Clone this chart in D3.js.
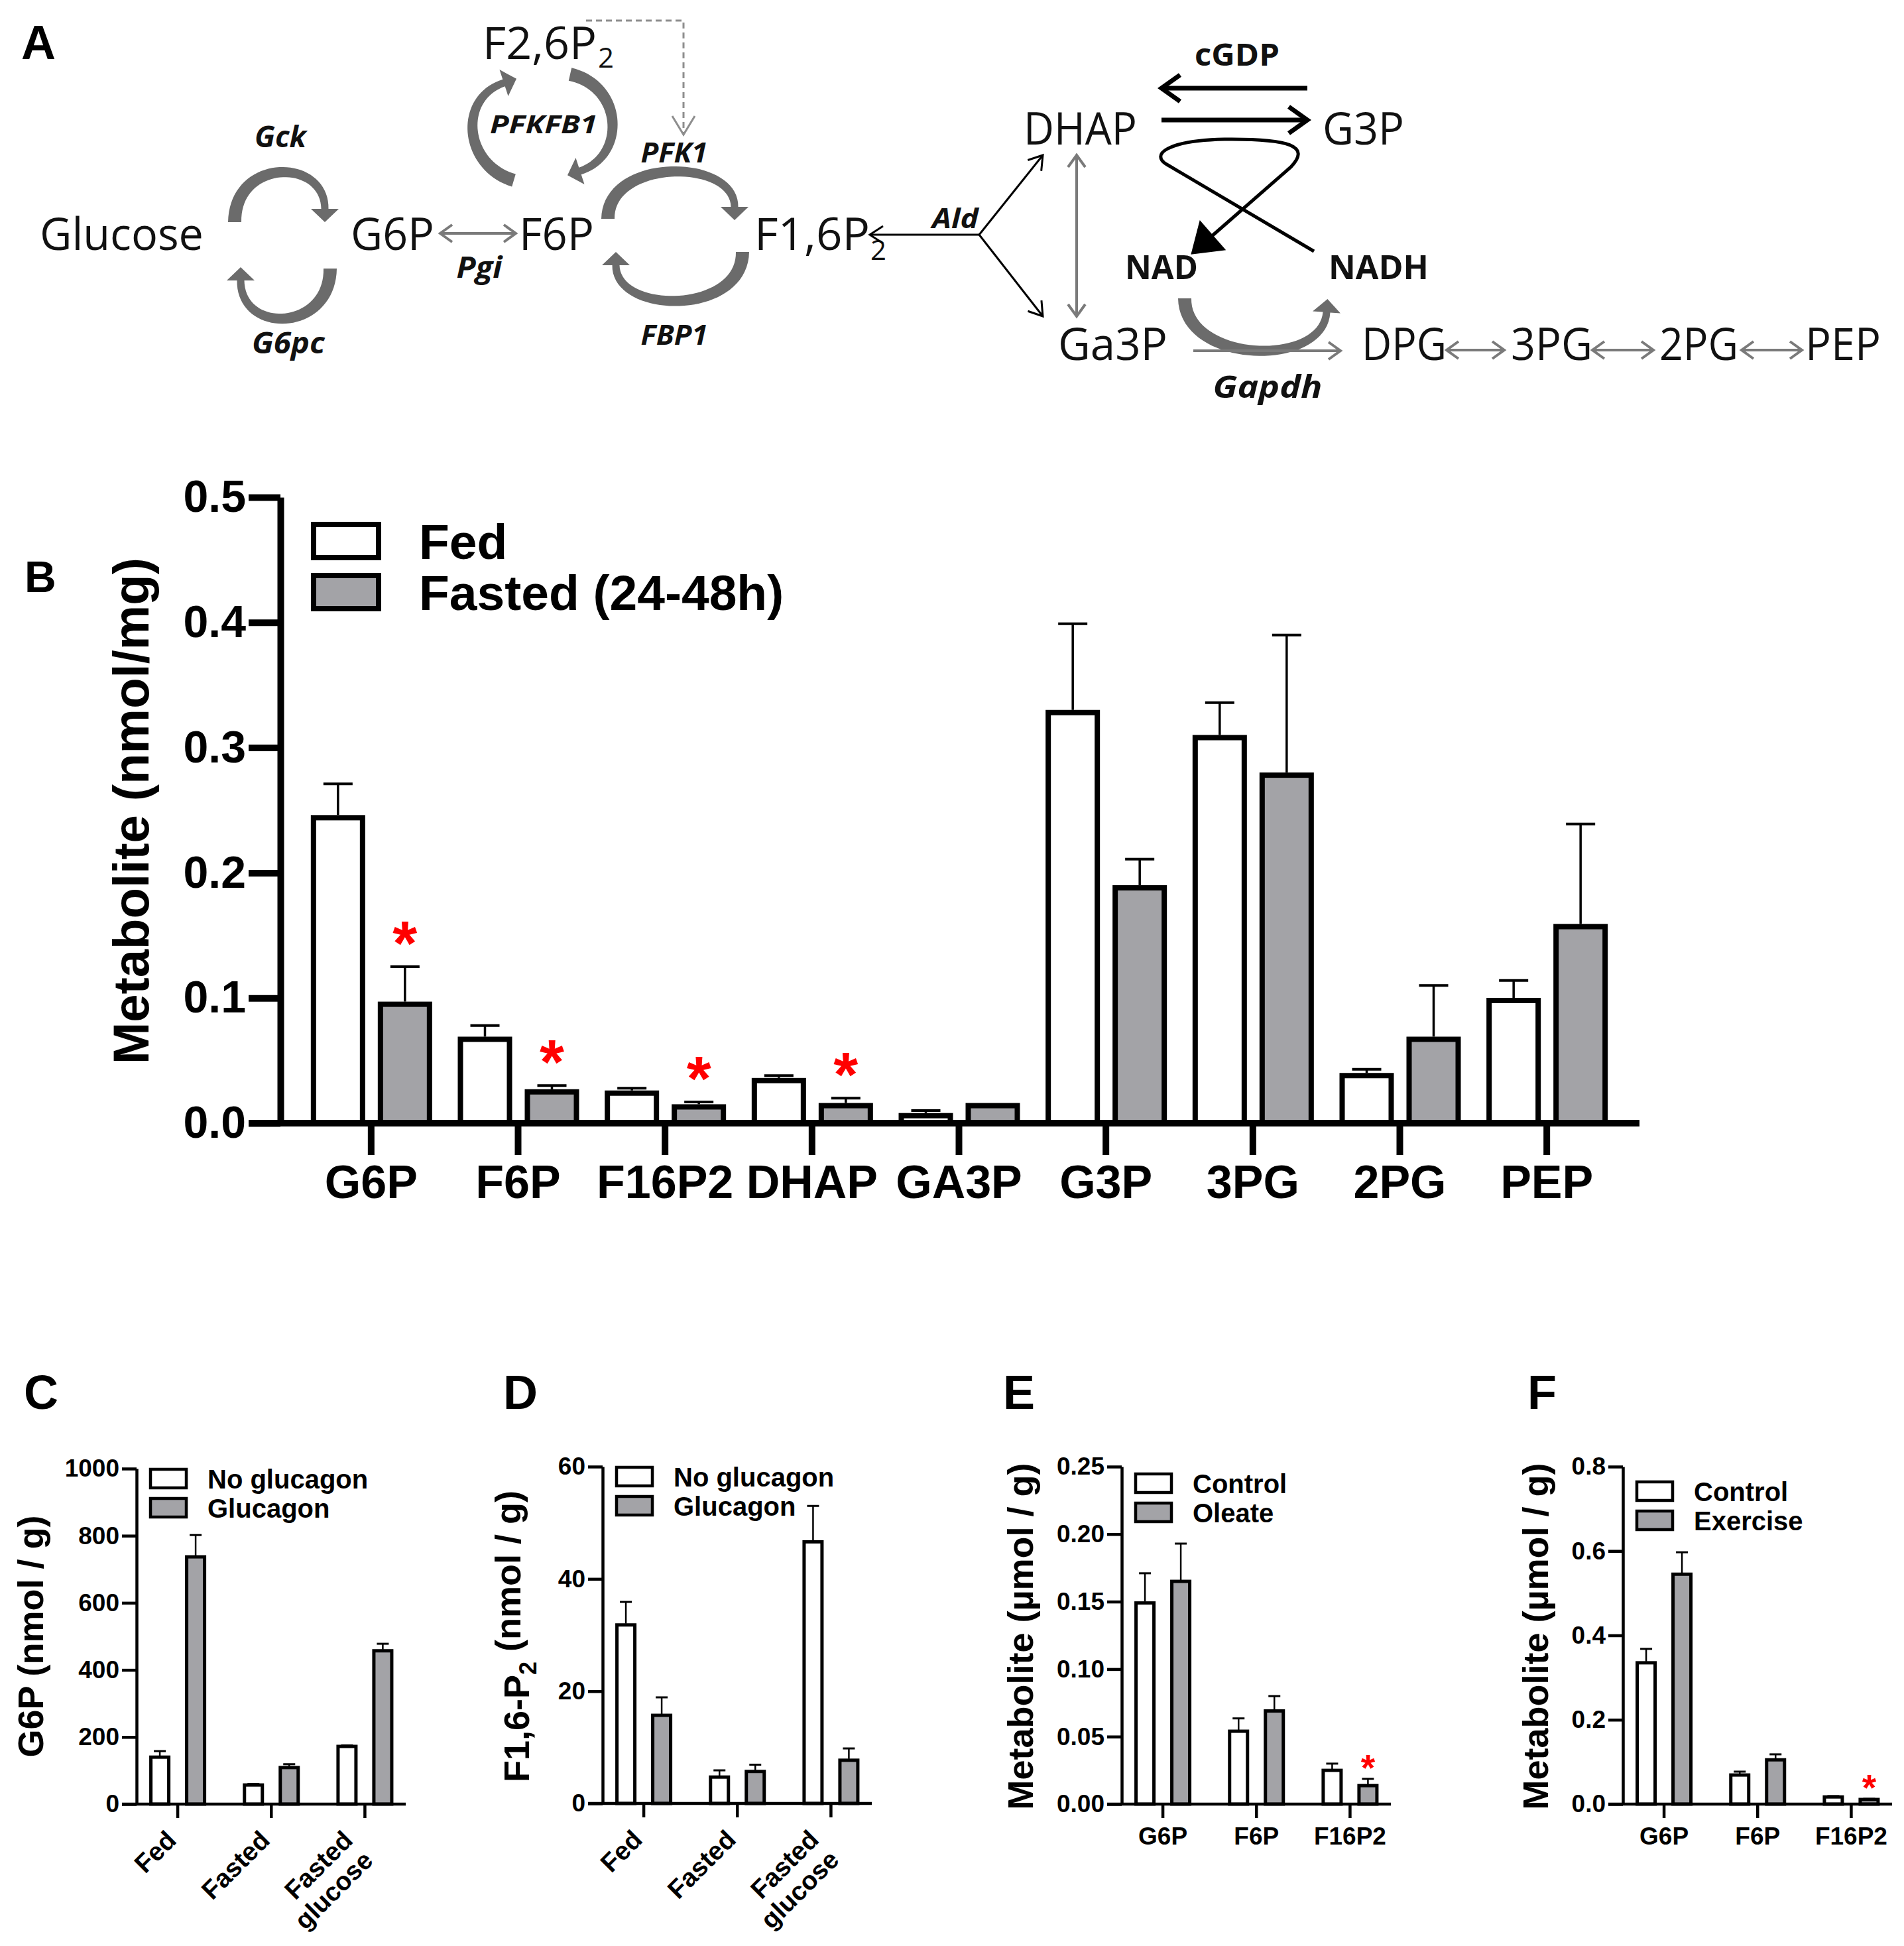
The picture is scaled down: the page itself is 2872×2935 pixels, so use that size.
<!DOCTYPE html>
<html>
<head>
<meta charset="utf-8">
<script src="https://cdn.jsdelivr.net/npm/d3@7"></script>
<style>
body { margin: 0; background: #fff; }
svg { display: block; }
</style>
</head>
<body>
<div id="fig"></div>
<script>
// ---------- data ----------
// panel B: liver metabolites, fed vs fasted
var bCategories = ['G6P', 'F6P', 'F16P2', 'DHAP', 'GA3P', 'G3P', '3PG', '2PG', 'PEP'];
var bSeries = ['Fed', 'Fasted (24-48h)'];
var bFed       = [0.244, 0.067, 0.024, 0.034, 0.006, 0.328, 0.308, 0.038, 0.098];
var bFedSem    = [0.027, 0.011, 0.004, 0.004, 0.004, 0.071, 0.028, 0.005, 0.016];
var bFasted    = [0.095, 0.025, 0.013, 0.014, 0.014, 0.188, 0.278, 0.067, 0.157];
var bFastedSem = [0.030, 0.005, 0.004, 0.006, 0.000, 0.023, 0.112, 0.043, 0.082];
var bSignificant = ['G6P', 'F6P', 'F16P2', 'DHAP'];
var bTicks = [0, 0.1, 0.2, 0.3, 0.4, 0.5];

// panels C and D: hepatocytes +/- glucagon
var cdGroups = ['Fed', 'Fasted', 'Fasted glucose'];
var cdSeries = ['No glucagon', 'Glucagon'];
var cNoGlucagon    = [140, 57, 172];
var cNoGlucagonSem = [18, 3, 3];
var cGlucagon      = [737, 109, 457];
var cGlucagonSem   = [65, 10, 21];
var cTicks = [0, 200, 400, 600, 800, 1000];

var dNoGlucagon    = [31.8, 4.7, 46.6];
var dNoGlucagonSem = [4.1, 1.2, 6.4];
var dGlucagon      = [15.7, 5.7, 7.7];
var dGlucagonSem   = [3.2, 1.2, 2.1];
var dTicks = [0, 20, 40, 60];

// panels E and F
var efCategories = ['G6P', 'F6P', 'F16P2'];
var eSeries = ['Control', 'Oleate'];
var eControl    = [0.149, 0.054, 0.025];
var eControlSem = [0.022, 0.0095, 0.005];
var eOleate     = [0.165, 0.069, 0.0137];
var eOleateSem  = [0.028, 0.011, 0.005];
var eTicks = [0, 0.05, 0.10, 0.15, 0.20, 0.25];

var fSeries = ['Control', 'Exercise'];
var fControl     = [0.335, 0.069, 0.017];
var fControlSem  = [0.033, 0.008, 0.002];
var fExercise    = [0.545, 0.105, 0.011];
var fExerciseSem = [0.052, 0.013, 0.0015];
var fTicks = [0, 0.2, 0.4, 0.6, 0.8];

// ---------- setup ----------
var W = 2872, H = 2935;
var chartFont = '"Liberation Sans", Arial, sans-serif';
var diagFont = '"Open Sans", "Noto Sans", sans-serif';
var grayFill = '#a3a3a7';

var svg = d3.select('#fig').append('svg')
  .attr('width', W).attr('height', H)
  .attr('viewBox', '0 0 ' + W + ' ' + H);
svg.append('rect').attr('width', W).attr('height', H).attr('fill', '#fff');

var defs = svg.append('defs');
function marker(id, d, fill, stroke, sw) {
  defs.append('marker').attr('id', id)
    .attr('markerUnits', 'userSpaceOnUse')
    .attr('viewBox', '-60 -40 100 80')
    .attr('markerWidth', 100).attr('markerHeight', 80)
    .attr('refX', 0).attr('refY', 0)
    .attr('orient', 'auto-start-reverse')
    .style('overflow', 'visible')
    .append('path').attr('d', d)
    .attr('fill', fill).attr('stroke', stroke).attr('stroke-width', sw)
    .attr('stroke-linejoin', 'miter');
}
marker('chevGray', 'M-18,-13 L0,0 L-18,13', 'none', '#7a7a7a', 4);
marker('chevBlack', 'M-20,-13 L0,0 L-20,13', 'none', '#000', 3);
marker('chevBold', 'M-28,-20 L0,0 L-28,20', 'none', '#000', 7);
marker('chevDash', 'M-28,-17 L0,0 L-28,17', 'none', '#8e8e8e', 3);
marker('triBlack', 'M-2,-30 L42,0 L-2,30 Z', '#000', 'none', 0);

// tapered curved arrow (cubic bezier), filled shape
function taperedArrow(g, p, w0, w1, headW, headL, color) {
  function pt(t) {
    var m = 1 - t;
    return [0, 1].map(function(k) {
      return m * m * m * p[0][k] + 3 * m * m * t * p[1][k] + 3 * m * t * t * p[2][k] + t * t * t * p[3][k];
    });
  }
  function tan(t) {
    var m = 1 - t;
    var v = [0, 1].map(function(k) {
      return 3 * m * m * (p[1][k] - p[0][k]) + 6 * m * t * (p[2][k] - p[1][k]) + 3 * t * t * (p[3][k] - p[2][k]);
    });
    var len = Math.sqrt(v[0] * v[0] + v[1] * v[1]);
    return [v[0] / len, v[1] / len];
  }
  var left = [], right = [];
  d3.range(0, 41).forEach(function(j) {
    var t = j / 40, q = pt(t), tv = tan(t), w = (w0 + (w1 - w0) * t) / 2;
    left.push([q[0] - tv[1] * w, q[1] + tv[0] * w]);
    right.push([q[0] + tv[1] * w, q[1] - tv[0] * w]);
  });
  var e = pt(1), te = tan(1), h = headW / 2;
  var poly = left.concat([
    [e[0] - te[1] * h, e[1] + te[0] * h],
    [e[0] + te[0] * headL, e[1] + te[1] * headL],
    [e[0] + te[1] * h, e[1] - te[0] * h]
  ]).concat(right.reverse());
  g.append('path').attr('d', d3.line()(poly) + 'Z').attr('fill', color);
}

// ---------- panel A : pathway diagram ----------
var gA = svg.append('g');
gA.append('text').attr('x', 32).attr('y', 89).text('A')
  .style('font', 'bold 72px ' + chartFont);

var metaboliteLabels = [
  {t: 'Glucose', x: 60, y: 377, w: 247},
  {t: 'G6P', x: 529, y: 377, w: 126},
  {t: 'F6P', x: 783, y: 377, w: 113},
  {t: 'F1,6P', x: 1138, y: 377, w: 174, sub: '2', sx: 1313, sy: 392},
  {t: 'F2,6P', x: 728, y: 89, w: 172, sub: '2', sx: 902, sy: 102},
  {t: 'DHAP', x: 1544, y: 218, w: 171},
  {t: 'G3P', x: 1995, y: 218, w: 123},
  {t: 'Ga3P', x: 1596, y: 543, w: 165},
  {t: 'DPG', x: 2054, y: 543, w: 128},
  {t: '3PG', x: 2279, y: 543, w: 123},
  {t: '2PG', x: 2503, y: 543, w: 119},
  {t: 'PEP', x: 2723, y: 543, w: 114}
];
metaboliteLabels.forEach(function(m) {
  gA.append('text').attr('x', m.x).attr('y', m.y).text(m.t)
    .attr('textLength', m.w).attr('lengthAdjust', 'spacingAndGlyphs')
    .style('font-family', diagFont).style('font-size', '67px').attr('fill', '#111');
  if (m.sub) {
    gA.append('text').attr('x', m.sx).attr('y', m.sy).text(m.sub)
      .style('font-family', diagFont).style('font-size', '42px').attr('fill', '#111');
  }
});

var enzymeLabels = [
  {t: 'Gck', x: 423, y: 222, w: 78, s: 44},
  {t: 'G6pc', x: 435, y: 533, w: 110, s: 44},
  {t: 'Pgi', x: 723, y: 419, w: 69, s: 44},
  {t: 'PFKFB1', x: 820, y: 201, w: 162, s: 38},
  {t: 'PFK1', x: 1017, y: 245, w: 101, s: 42},
  {t: 'FBP1', x: 1017, y: 520, w: 101, s: 42},
  {t: 'Ald', x: 1441, y: 344, w: 70, s: 42},
  {t: 'Gapdh', x: 1912, y: 600, w: 165, s: 46}
];
enzymeLabels.forEach(function(m) {
  gA.append('text').attr('x', m.x).attr('y', m.y).text(m.t)
    .attr('text-anchor', 'middle')
    .attr('textLength', m.w).attr('lengthAdjust', 'spacingAndGlyphs')
    .style('font-family', diagFont).style('font-size', m.s + 'px')
    .style('font-weight', 'bold').style('font-style', 'italic').attr('fill', '#111');
});

var cofactorLabels = [
  {t: 'cGDP', x: 1802, y: 99, w: 128, s: 46},
  {t: 'NAD', x: 1697, y: 421, w: 110, s: 50},
  {t: 'NADH', x: 2004, y: 421, w: 151, s: 50}
];
cofactorLabels.forEach(function(m) {
  gA.append('text').attr('x', m.x).attr('y', m.y).text(m.t)
    .attr('textLength', m.w).attr('lengthAdjust', 'spacingAndGlyphs')
    .style('font-family', diagFont).style('font-size', m.s + 'px')
    .style('font-weight', 'bold').attr('fill', '#111');
});

// thick grey cycle arrows (tail is wider than the head end)
var cycleArcs = [
  [[354, 335], [354, 238], [490, 238], [490, 315]],     // Gck
  [[498, 405], [498, 500], [363, 505], [363, 423]],     // G6pc
  [[775, 272], [700, 250], [690, 148], [760, 125]],     // PFKFB1 kinase
  [[860, 112], [940, 130], [945, 235], [875, 258]],     // PFKFB1 phosphatase
  [[917, 330], [917, 238], [1108, 238], [1108, 312]],   // PFK1
  [[1120, 380], [1120, 475], [929, 475], [929, 400]],   // FBP1
  [[1787, 450], [1787, 548], [1995, 555], [2001, 471]]  // Gapdh NAD -> NADH
];
cycleArcs.forEach(function(c) {
  taperedArrow(gA, c, 20, 11, 42, 20, '#6b6b6b');
});

// thin grey (reversible) arrows
var grayLinks = [
  {d: 'M664,352 H778', both: true},
  {d: 'M1624,234 V477', both: true},
  {d: 'M1800,529 H2022', both: false},
  {d: 'M2182,528 H2269', both: true},
  {d: 'M2402,528 H2494', both: true},
  {d: 'M2627,528 H2718', both: true}
];
grayLinks.forEach(function(l) {
  var p = gA.append('path').attr('d', l.d).attr('fill', 'none')
    .attr('stroke', '#7a7a7a').attr('stroke-width', 4)
    .attr('marker-end', 'url(#chevGray)');
  if (l.both) p.attr('marker-start', 'url(#chevGray)');
});

// aldolase split
['M1477,354 H1312', 'M1477,354 L1573,234', 'M1477,354 L1573,477'].forEach(function(d) {
  gA.append('path').attr('d', d).attr('fill', 'none')
    .attr('stroke', '#000').attr('stroke-width', 3)
    .attr('marker-end', 'url(#chevBlack)');
});

// G3P shuttle arrows
['M1972,133 H1752', 'M1752,181 H1972'].forEach(function(d) {
  gA.append('path').attr('d', d).attr('fill', 'none')
    .attr('stroke', '#000').attr('stroke-width', 7)
    .attr('marker-end', 'url(#chevBold)');
});

// NADH -> NAD loop
gA.append('path')
  .attr('d', 'M1982,379 L1760,248 C1735,233 1760,212 1847,210 C1945,209 1978,220 1947,252 L1828,356')
  .attr('fill', 'none').attr('stroke', '#000').attr('stroke-width', 5)
  .attr('marker-end', 'url(#triBlack)');

// F2,6P2 activates PFK1 (dashed)
gA.append('path').attr('d', 'M884,31 H1031 V203')
  .attr('fill', 'none').attr('stroke', '#8e8e8e').attr('stroke-width', 3)
  .attr('stroke-dasharray', '9,6')
  .attr('marker-end', 'url(#chevDash)');

// ---------- panel B ----------
var gB = svg.append('g');
var yB = d3.scaleLinear().domain([0, 0.5]).range([1694, 750]);
var xB = d3.scaleBand().domain(bCategories).range([449, 2444]);
var bData = [
  {vals: bFed, sem: bFedSem, fill: '#fff', off: -50},
  {vals: bFasted, sem: bFastedSem, fill: grayFill, off: 51}
];
function bCenter(i, off) { return xB(bCategories[i]) + xB.bandwidth() / 2 + off; }

bData.forEach(function(s) {
  gB.selectAll(null).data(s.vals).enter().append('rect')
    .attr('x', function(d, i) { return bCenter(i, s.off) - 37; })
    .attr('width', 74)
    .attr('y', function(d) { return yB(d); })
    .attr('height', function(d) { return yB(0) - yB(d); })
    .attr('fill', s.fill).attr('stroke', '#000').attr('stroke-width', 8);
  var eb = s.vals.map(function(v, i) { return {v: v, e: s.sem[i], i: i}; })
    .filter(function(d) { return d.e > 0; });
  gB.selectAll(null).data(eb).enter().append('line')
    .attr('x1', function(d) { return bCenter(d.i, s.off); })
    .attr('x2', function(d) { return bCenter(d.i, s.off); })
    .attr('y1', function(d) { return yB(d.v) - 4; })
    .attr('y2', function(d) { return yB(d.v + d.e); })
    .attr('stroke', '#000').attr('stroke-width', 3.5);
  gB.selectAll(null).data(eb).enter().append('line')
    .attr('x1', function(d) { return bCenter(d.i, s.off) - 22; })
    .attr('x2', function(d) { return bCenter(d.i, s.off) + 22; })
    .attr('y1', function(d) { return yB(d.v + d.e); })
    .attr('y2', function(d) { return yB(d.v + d.e); })
    .attr('stroke', '#000').attr('stroke-width', 4);
});

// significance stars
gB.selectAll(null).data(bSignificant).enter().append('text')
  .attr('x', function(c) { return bCenter(bCategories.indexOf(c), 51); })
  .attr('y', function(c) { var i = bCategories.indexOf(c); return yB(bFasted[i] + bFastedSem[i]) - 3; })
  .attr('text-anchor', 'middle').attr('fill', '#f00')
  .style('font', 'bold 95px ' + chartFont).text('*');

// axes
var yAxB = gB.append('g').attr('transform', 'translate(423,0)')
  .call(d3.axisLeft(yB).tickValues(bTicks).tickFormat(d3.format('.1f'))
    .tickSize(48).tickSizeOuter(0).tickPadding(4));
yAxB.selectAll('path, line').attr('stroke', '#000').attr('stroke-width', 10);
yAxB.selectAll('text').attr('fill', '#000').style('font', 'bold 68px ' + chartFont);

var xAxB = gB.append('g').attr('transform', 'translate(0,1694)')
  .call(d3.axisBottom(xB).tickSize(48).tickSizeOuter(0).tickPadding(15));
xAxB.select('.domain').remove();
xAxB.selectAll('line').attr('stroke', '#000').attr('stroke-width', 10);
xAxB.selectAll('text').attr('fill', '#000').style('font', 'bold 70px ' + chartFont);
gB.append('line').attr('x1', 375).attr('x2', 2473).attr('y1', 1694).attr('y2', 1694)
  .attr('stroke', '#000').attr('stroke-width', 10);

// legend
bSeries.forEach(function(name, k) {
  gB.append('rect').attr('x', 473).attr('y', 791 + k * 77).attr('width', 98).attr('height', 50)
    .attr('fill', bData[k].fill).attr('stroke', '#000').attr('stroke-width', 8);
  gB.append('text').attr('x', 632).attr('y', 843 + k * 77).text(name)
    .style('font', 'bold 75px ' + chartFont);
});

gB.append('text').attr('transform', 'translate(224,1223) rotate(-90)')
  .attr('text-anchor', 'middle').text('Metabolite (nmol/mg)')
  .style('font', 'bold 76px ' + chartFont);
gB.append('text').attr('x', 37).attr('y', 893).text('B')
  .style('font', 'bold 66px ' + chartFont);

// ---------- panels C-F ----------
function smallPanel(p) {
  var g = svg.append('g');
  var y = d3.scaleLinear().domain([0, p.max]).range([p.bottom, p.top]);
  var x = d3.scaleBand().domain(p.cats).range([p.ax - 8.5, p.ax + 415]);
  var offs = [-27, 27];
  function cx(i, k) { return x(p.cats[i]) + x.bandwidth() / 2 + offs[k]; }

  p.series.forEach(function(s, k) {
    g.selectAll(null).data(s.vals).enter().append('rect')
      .attr('x', function(d, i) { return cx(i, k) - 13.5; })
      .attr('width', 27)
      .attr('y', function(d) { return y(d); })
      .attr('height', function(d) { return y(0) - y(d); })
      .attr('fill', s.fill).attr('stroke', '#000').attr('stroke-width', 5);
    var eb = s.vals.map(function(v, i) { return {v: v, e: s.sem[i], i: i}; });
    g.selectAll(null).data(eb).enter().append('line')
      .attr('x1', function(d) { return cx(d.i, k); })
      .attr('x2', function(d) { return cx(d.i, k); })
      .attr('y1', function(d) { return y(d.v) - 2; })
      .attr('y2', function(d) { return y(d.v + d.e); })
      .attr('stroke', '#000').attr('stroke-width', 2.5);
    g.selectAll(null).data(eb).enter().append('line')
      .attr('x1', function(d) { return cx(d.i, k) - 9; })
      .attr('x2', function(d) { return cx(d.i, k) + 9; })
      .attr('y1', function(d) { return y(d.v + d.e); })
      .attr('y2', function(d) { return y(d.v + d.e); })
      .attr('stroke', '#000').attr('stroke-width', 3);
  });

  (p.stars || []).forEach(function(st) {
    var s = p.series[st[0]], i = p.cats.indexOf(st[1]);
    g.append('text').attr('x', cx(i, st[0])).attr('y', y(s.vals[i] + s.sem[i]) + 2)
      .attr('text-anchor', 'middle').attr('fill', '#f00')
      .style('font', 'bold 55px ' + chartFont).text('*');
  });

  var ya = g.append('g').attr('transform', 'translate(' + p.ax + ',0)')
    .call(d3.axisLeft(y).tickValues(p.ticks).tickFormat(p.fmt)
      .tickSize(22).tickSizeOuter(0).tickPadding(4));
  ya.selectAll('path, line').attr('stroke', '#000').attr('stroke-width', 4.5);
  ya.selectAll('text').attr('fill', '#000').style('font', 'bold 37px ' + chartFont);

  var xa = g.append('g').attr('transform', 'translate(0,' + p.bottom + ')')
    .call(d3.axisBottom(x).tickSize(21).tickSizeOuter(0).tickPadding(14));
  xa.select('.domain').remove();
  xa.selectAll('line').attr('stroke', '#000').attr('stroke-width', 4.5);
  if (p.rotate) {
    xa.selectAll('text').remove();
    p.cats.forEach(function(c) {
      var lines = c.split(' ');
      var shift = lines.length > 1 ? -16 : 0;
      var t = g.append('text')
        .attr('transform', 'translate(' + (x(c) + x.bandwidth() / 2 + shift) + ',' + (p.bottom + 57) + ') rotate(-45)')
        .attr('text-anchor', 'end').style('font', 'bold 39px ' + chartFont);
      lines.forEach(function(l, j) {
        t.append('tspan').attr('x', 0).attr('dy', j === 0 ? 0 : '1.1em').text(l);
      });
    });
  } else {
    xa.selectAll('text').attr('fill', '#000').style('font', 'bold 37px ' + chartFont);
  }
  g.append('line').attr('x1', p.ax - 22).attr('x2', p.ax + 406)
    .attr('y1', p.bottom).attr('y2', p.bottom)
    .attr('stroke', '#000').attr('stroke-width', 4.5);

  p.series.forEach(function(s, k) {
    g.append('rect').attr('x', p.ax + 21).attr('y', p.legendY + k * 44)
      .attr('width', 54).attr('height', 28)
      .attr('fill', s.fill).attr('stroke', '#000').attr('stroke-width', 4.5);
    g.append('text').attr('x', p.ax + 107).attr('y', p.legendY + k * 44 + 29)
      .text(s.name).style('font', 'bold 40px ' + chartFont);
  });

  var yl = g.append('text').attr('transform', 'translate(' + p.labelX + ',2468) rotate(-90)')
    .attr('text-anchor', 'middle').style('font', 'bold 54px ' + chartFont);
  p.ylabel.forEach(function(part) {
    var ts = yl.append('tspan').text(part.t);
    if (part.sub) ts.attr('dy', '0.3em').style('font-size', '36px');
    if (part.after) ts.attr('dy', '-0.45em');
  });

  g.append('text').attr('x', p.letterX).attr('y', 2125).text(p.letter)
    .style('font', 'bold 72px ' + chartFont);
}

smallPanel({
  letter: 'C', letterX: 36, ax: 206, top: 2215, bottom: 2721, max: 1000,
  ticks: cTicks, fmt: d3.format('d'), cats: cdGroups, rotate: true,
  series: [
    {name: cdSeries[0], vals: cNoGlucagon, sem: cNoGlucagonSem, fill: '#fff'},
    {name: cdSeries[1], vals: cGlucagon, sem: cGlucagonSem, fill: grayFill}
  ],
  legendY: 2216, labelX: 65, ylabel: [{t: 'G6P (nmol / g)'}]
});

smallPanel({
  letter: 'D', letterX: 759, ax: 909, top: 2212, bottom: 2720, max: 60,
  ticks: dTicks, fmt: d3.format('d'), cats: cdGroups, rotate: true,
  series: [
    {name: cdSeries[0], vals: dNoGlucagon, sem: dNoGlucagonSem, fill: '#fff'},
    {name: cdSeries[1], vals: dGlucagon, sem: dGlucagonSem, fill: grayFill}
  ],
  legendY: 2213, labelX: 798,
  ylabel: [{t: 'F1,6-P'}, {t: '2', sub: true}, {t: ' (nmol / g)', after: true}]
});

smallPanel({
  letter: 'E', letterX: 1513, ax: 1692, top: 2212, bottom: 2721, max: 0.25,
  ticks: eTicks, fmt: d3.format('.2f'), cats: efCategories, rotate: false,
  series: [
    {name: eSeries[0], vals: eControl, sem: eControlSem, fill: '#fff'},
    {name: eSeries[1], vals: eOleate, sem: eOleateSem, fill: grayFill}
  ],
  stars: [[1, 'F16P2']],
  legendY: 2223, labelX: 1558, ylabel: [{t: 'Metabolite (\u00b5mol / g)'}]
});

smallPanel({
  letter: 'F', letterX: 2304, ax: 2448, top: 2212, bottom: 2721, max: 0.8,
  ticks: fTicks, fmt: d3.format('.1f'), cats: efCategories, rotate: false,
  series: [
    {name: fSeries[0], vals: fControl, sem: fControlSem, fill: '#fff'},
    {name: fSeries[1], vals: fExercise, sem: fExerciseSem, fill: grayFill}
  ],
  stars: [[1, 'F16P2']],
  legendY: 2235, labelX: 2335, ylabel: [{t: 'Metabolite (\u00b5mol / g)'}]
});
</script>
</body>
</html>
